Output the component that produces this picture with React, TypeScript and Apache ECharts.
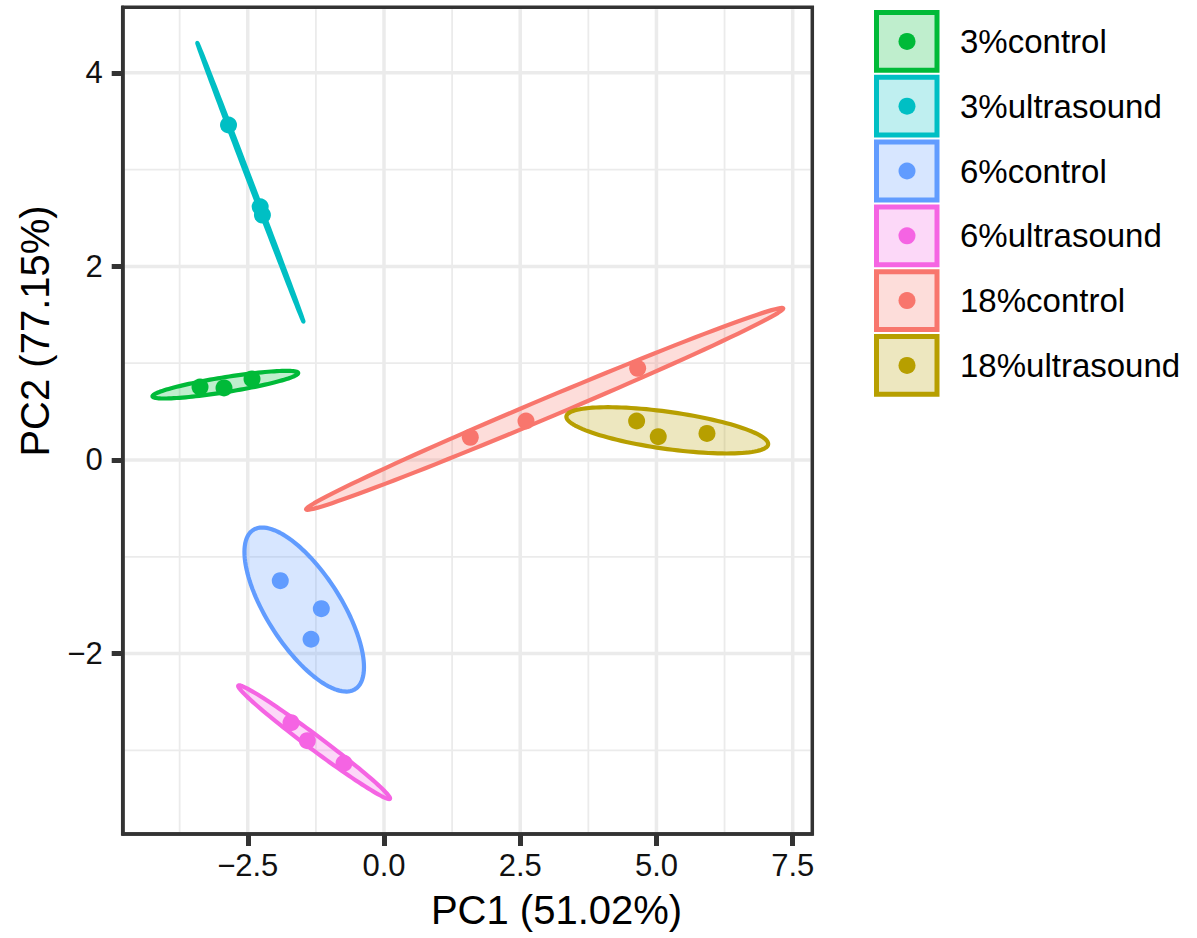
import React, { useEffect, useRef } from "react";
import * as echarts from "echarts";

// ---- data ----
const groupNames = ["3%control", "3%ultrasound", "6%control", "6%ultrasound", "18%control", "18%ultrasound"];
const groupColors = ["#00BA38", "#00BFC4", "#619CFF", "#F564E3", "#F8766D", "#B79F00"];

const control3 = [[-3.376, 0.754], [-2.936, 0.744], [-2.422, 0.837]];
const ultrasound3 = [[-2.853, 3.461], [-2.272, 2.616], [-2.231, 2.531]];
const control6 = [[-1.903, -1.247], [-1.15, -1.536], [-1.339, -1.852]];
const ultrasound6 = [[-1.706, -2.714], [-1.407, -2.9], [-0.734, -3.133]];
const control18 = [[1.584, 0.234], [2.606, 0.403], [4.655, 0.947]];
const ultrasound18 = [[4.636, 0.403], [5.033, 0.241], [5.927, 0.275]];
const groupPoints = [control3, ultrasound3, control6, ultrasound6, control18, ultrasound18];

const xMajorTicks = [-2.5, 0, 2.5, 5, 7.5];
const xMinorTicks = [-3.75, -1.25, 1.25, 3.75, 6.25];
const yMajorTicks = [-2, 0, 2, 4];
const yMinorTicks = [-3, -1, 1, 3];
const xRange = [-4.795, 7.86];
const yRange = [-3.864, 4.677];

const xTitle = "PC1 (51.02%)";
const yTitle = "PC2 (77.15%)";
const ellipseRadius = 2.8;

const FONT = "'Liberation Sans', Arial, Helvetica, sans-serif";

function hexToRgba(hex: string, a: number) {
  const n = parseInt(hex.slice(1), 16);
  return `rgba(${(n >> 16) & 255},${(n >> 8) & 255},${n & 255},${a})`;
}

function ellipse(pts: number[][], r: number, seg = 120) {
  const n = pts.length;
  const mx = pts.reduce((s, p) => s + p[0], 0) / n;
  const my = pts.reduce((s, p) => s + p[1], 0) / n;
  let sxx = 0, syy = 0, sxy = 0;
  pts.forEach((p) => {
    sxx += (p[0] - mx) ** 2;
    syy += (p[1] - my) ** 2;
    sxy += (p[0] - mx) * (p[1] - my);
  });
  sxx /= n - 1; syy /= n - 1; sxy /= n - 1;
  const a = Math.sqrt(sxx);
  const b = sxy / a;
  const c = Math.sqrt(Math.max(syy - b * b, 0));
  const out: number[][] = [];
  for (let i = 0; i <= seg; i++) {
    const t = (2 * Math.PI * i) / seg;
    out.push([mx + r * Math.cos(t) * a, my + r * (Math.cos(t) * b + Math.sin(t) * c)]);
  }
  return out;
}

function fmtMinus(s: string) {
  return s.replace("-", "\u2212");
}

export default function App() {
  const ref = useRef<HTMLDivElement>(null);
  useEffect(() => {
    if (!ref.current) return;
    const chart = echarts.init(ref.current, undefined, { renderer: "svg" });

    // kind: 0 x-major grid, 1 x-minor grid, 2 y-major grid, 3 y-minor grid
    const gridData = [
      ...xMajorTicks.map((v) => [v, 0, 0]),
      ...xMinorTicks.map((v) => [v, 0, 1]),
      ...yMajorTicks.map((v) => [0, v, 2]),
      ...yMinorTicks.map((v) => [0, v, 3]),
    ];

    const ellipseData = groupPoints.map((pts, i) => [
      pts.reduce((s, p) => s + p[0], 0) / pts.length,
      pts.reduce((s, p) => s + p[1], 0) / pts.length,
      i,
    ]);

    const legendTop = 10;
    const legendStep = 64.8;
    const legendGraphics: any[] = [];
    groupNames.forEach((name, i) => {
      const top = legendTop + legendStep * i;
      legendGraphics.push({
        type: "rect",
        shape: { x: 876.5, y: top + 2.5, width: 60.5, height: 57.8 },
        style: { fill: hexToRgba(groupColors[i], 0.25), stroke: groupColors[i], lineWidth: 5 },
      });
      legendGraphics.push({
        type: "circle",
        shape: { cx: 907, cy: top + 31.4, r: 8.5 },
        style: { fill: groupColors[i] },
      });
      legendGraphics.push({
        type: "text",
        x: 960,
        y: top + 31.4,
        style: {
          text: name,
          fontSize: 33,
          fontFamily: FONT,
          fill: "#000",
          align: "left",
          verticalAlign: "middle",
        },
      });
    });

    const axisLine = { show: true, onZero: false, lineStyle: { color: "#333333", width: 3.5 } };

    const option: any = {
      animation: false,
      backgroundColor: "#ffffff",
      grid: {
        left: 122.7,
        top: 7.3,
        width: 689.6,
        height: 826.7,
        show: true,
        borderColor: "#333333",
        borderWidth: 3.5,
        backgroundColor: "transparent",
        z: 10,
      },
      xAxis: {
        type: "value",
        min: xRange[0],
        max: xRange[1],
        z: 11,
        axisLine,
        splitLine: { show: false },
        axisTick: {
          show: true,
          customValues: xMajorTicks,
          length: 12,
          lineStyle: { color: "#333333", width: 5 },
        },
        axisLabel: {
          customValues: xMajorTicks,
          fontSize: 31,
          fontFamily: FONT,
          color: "#111",
          margin: 16,
          formatter: (v: number) => fmtMinus(v.toFixed(1)),
        },
      },
      yAxis: {
        type: "value",
        min: yRange[0],
        max: yRange[1],
        z: 11,
        axisLine,
        splitLine: { show: false },
        axisTick: {
          show: true,
          customValues: yMajorTicks,
          length: 11,
          lineStyle: { color: "#333333", width: 5 },
        },
        axisLabel: {
          customValues: yMajorTicks,
          fontSize: 31,
          fontFamily: FONT,
          color: "#111",
          margin: 20,
          formatter: (v: number) => fmtMinus(String(Math.round(v))),
        },
      },
      graphic: [
        {
          type: "text",
          x: 556.5,
          y: 910,
          style: { text: xTitle, fontSize: 40, fontFamily: FONT, fill: "#000", align: "center", verticalAlign: "middle" },
        },
        {
          type: "text",
          x: 35,
          y: 331,
          rotation: Math.PI / 2,
          style: { text: yTitle, fontSize: 40, fontFamily: FONT, fill: "#000", align: "center", verticalAlign: "middle" },
        },
        ...legendGraphics,
      ],
      series: [
        {
          type: "custom",
          name: "grid",
          silent: true,
          z: 1,
          data: gridData,
          renderItem: (params: any, api: any) => {
            const cs = params.coordSys;
            const kind = api.value(2);
            const major = kind === 0 || kind === 2;
            const style = { stroke: "#EBEBEB", lineWidth: major ? 3.5 : 1.8 };
            if (kind < 2) {
              const px = api.coord([api.value(0), 0])[0];
              return { type: "line", shape: { x1: px, y1: cs.y + 2, x2: px, y2: cs.y + cs.height - 2 }, style };
            }
            const py = api.coord([0, api.value(1)])[1];
            return { type: "line", shape: { x1: cs.x + 2, y1: py, x2: cs.x + cs.width - 2, y2: py }, style };
          },
        },
        {
          type: "custom",
          name: "ellipses",
          silent: true,
          z: 2,
          data: ellipseData,
          renderItem: (params: any, api: any) => {
            const i = api.value(2);
            const pts = ellipse(groupPoints[i], ellipseRadius).map((p) => api.coord(p));
            return {
              type: "polygon",
              shape: { points: pts },
              style: {
                fill: hexToRgba(groupColors[i], 0.25),
                stroke: groupColors[i],
                lineWidth: 4.2,
                lineJoin: "round",
              },
            };
          },
        },
        ...groupNames.map((name, i) => ({
          type: "scatter",
          name,
          z: 3,
          symbol: "circle",
          symbolSize: 17,
          itemStyle: { color: groupColors[i], opacity: 1 },
          data: groupPoints[i],
        })),
      ],
    };
    chart.setOption(option);
    return () => chart.dispose();
  }, []);

  return (
    <div
      ref={ref}
      style={{ position: "fixed", left: 0, top: 0, width: 1197, height: 938, background: "#fff" }}
    />
  );
}
